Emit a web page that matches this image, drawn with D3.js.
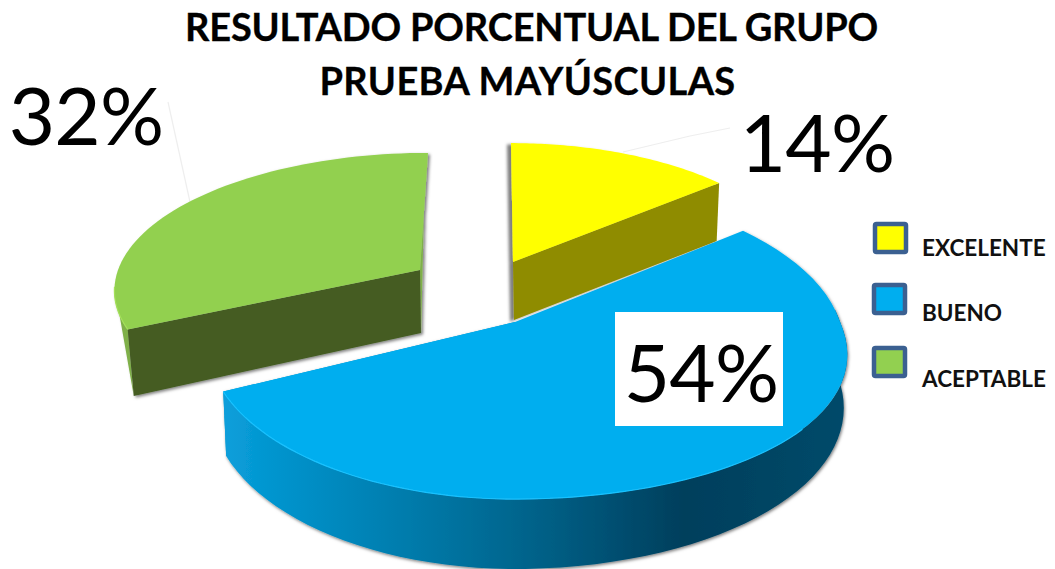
<!DOCTYPE html>
<html><head><meta charset="utf-8">
<script src="https://cdn.jsdelivr.net/npm/d3@7"></script>
<style>html,body{margin:0;padding:0;background:#fff;overflow:hidden}svg{display:block}text{font-family:Lato,Carlito,"Open Sans",sans-serif}</style>
</head><body><div id="c"></div>
<script>
const categories = ["EXCELENTE", "BUENO", "ACEPTABLE"];
const values = [14, 54, 32];
const titleLines = ["RESULTADO PORCENTUAL DEL GRUPO", "PRUEBA MAYÚSCULAS"];
const topColors = ["#ffff00", "#00aeef", "#92d050"];
const innerColors = ["#8f8c00", "#006f9e", "#445c24"];
const rimColors = ["#5f5c00", "#19c2ff", "#a4e05a"];
const sliverColors = ["#5f5c00", "#0090c8", "#7fb04a"];

const W = 1055, H = 569, k = 0.127;
const geom = [
  {cx:513, cy:262, a:134,   bR:291, bL:291, backFall:0, bump:0,  lean:-2, depth:58, dk:0, shrinkR:.985, slope:0,   shrinkL:.985, sh:-4},
  {cx:515, cy:322, a:154.6, bR:325, bL:305, backFall:8, bump:28, lean:0,  depth:61, dk:k, shrinkR:1,    slope:.06, shrinkL:.99,  sh:1},
  {cx:420, cy:270, a:132,   bR:305, bL:302, backFall:0, bump:0,  lean:8,  depth:63, dk:k, shrinkR:.985, slope:0,   shrinkL:.985, sh:2}
];
const labelPos = [{x:817,y:172},{x:701,y:402},{x:86,y:145}];
const swatchPos = [{x:875,y:224},{x:874,y:285},{x:874,y:348}];
const legendBase = [256,321,387];
const leaders = [[[623,152],[690,136],[730,128]],[[168,102],[190,202]]];
const titleStyle = [{x:531.5,y:41,ls:-0.2},{x:527.5,y:95,ls:0.35}];

const svg = d3.select("#c").append("svg").attr("width",W).attr("height",H);
const defs = svg.append("defs");
const grad = defs.append("linearGradient").attr("id","blueSide").attr("gradientUnits","userSpaceOnUse")
  .attr("x1",223).attr("x2",846).attr("y1",0).attr("y2",0);
[[0,"#0a9fdb"],[.12,"#0090c8"],[.3,"#007bab"],[.5,"#006289"],[.66,"#004a6b"],[.74,"#003f5c"],[1,"#004a6a"]]
  .forEach(s=>grad.append("stop").attr("offset",s[0]).attr("stop-color",s[1]));
geom.forEach((g,i)=>{
  defs.append("filter").attr("id","sh"+i).attr("x","-10%").attr("y","-10%").attr("width","120%").attr("height","120%")
    .append("feDropShadow").attr("dx",g.sh).attr("dy",1.5).attr("stdDeviation",1.8)
    .attr("flood-color","#000").attr("flood-opacity",.5);
});

const pie = d3.pie().sort(null).value(d=>d);
const arcs = pie(values);

function proj(g, t, lower){
  const X = Math.sin(t), Y = Math.cos(t), p = 1 + k*Y;
  const b = X >= 0 ? g.bR + (Y < 0 ? g.bump*(-Y) : -g.backFall*Y) : g.bL;
  let x = b*X/p, y = -g.a*Y/p;
  if (lower){
    x *= X >= 0 ? g.shrinkR - g.slope*Math.abs(Y) : g.shrinkL;
    y += g.depth/(1 + g.dk*Y);
    return [g.cx + x + g.lean*Y*0.5, g.cy + y];
  }
  return [g.cx + x + g.lean*Y, g.cy + y];
}
function apex(g, lower){ return [g.cx + (lower?1:0), g.cy + (lower? g.depth : 0)]; }
const line = d3.line();
const steps = (a,b)=>d3.range(0,61).map(i=>a+(b-a)*i/60);

leaders.forEach(l=>svg.append("path").attr("d",line(l)).attr("fill","none").attr("stroke","#eeeeee").attr("stroke-width",1.2));

[0,2,1].forEach(i=>{
  const g = geom[i], A = arcs[i], a0 = A.startAngle, a1 = A.endAngle;
  const grp = svg.append("g").attr("filter","url(#sh"+i+")");
  const backAngle = i===0 ? a0 : a1;
  grp.append("path").attr("fill",sliverColors[i]).attr("d",line([
    proj(g,backAngle,false), proj(g,backAngle,true), apex(g,true), apex(g,false)])+"Z");
  if (i===1){
    const ts = steps(Math.PI/2 - 0.08, a1);
    grp.append("path").attr("fill","url(#blueSide)")
      .attr("d", line(ts.map(t=>proj(g,t,false)).concat(ts.slice().reverse().map(t=>proj(g,t,true))))+"Z");
  }
  if (i===2){
    const ts = steps(a0, Math.PI*1.46);
    grp.append("path").attr("fill",sliverColors[i])
      .attr("d", line([proj(g,a0,true)].concat(ts.map(t=>proj(g,t,false))))+"Z");
  }
  if (i!==1){
    const faceAngle = i===0 ? a1 : a0;
    grp.append("path").attr("fill",innerColors[i]).attr("d",line([
      apex(g,false), proj(g,faceAngle,false), proj(g,faceAngle,true), apex(g,true)])+"Z");
  }
  const ts = steps(a0,a1);
  grp.append("path").attr("fill",topColors[i])
    .attr("d",line([apex(g,false)].concat(ts.map(t=>proj(g,t,false))))+"Z");
  if (i!==0){
    const r0 = i===1 ? Math.PI*0.72 : a0, r1 = i===1 ? a1 : Math.PI*1.46;
    grp.append("path").attr("fill","none").attr("stroke",rimColors[i]).attr("stroke-width",1.2)
      .attr("d",line(steps(r0,r1).map(t=>proj(g,t,false))));
  }
});

svg.selectAll("text.title").data(titleLines).join("text").attr("class","title")
  .attr("x",(d,i)=>titleStyle[i].x).attr("y",(d,i)=>titleStyle[i].y).attr("text-anchor","middle")
  .attr("font-size",38).attr("font-weight",700).attr("letter-spacing",(d,i)=>titleStyle[i].ls)
  .attr("fill","#000").attr("stroke","#000").attr("stroke-width",.3).text(d=>d);

svg.append("rect").attr("x",615).attr("y",312).attr("width",168).attr("height",114).attr("fill","#fff");

svg.selectAll("text.val").data(values).join("text").attr("class","val")
  .attr("x",(d,i)=>labelPos[i].x).attr("y",(d,i)=>labelPos[i].y).attr("text-anchor","middle")
  .attr("font-size",80).attr("letter-spacing",-0.8).attr("fill","#000").text(d=>d+"%");

categories.forEach((c,i)=>{
  svg.append("rect").attr("x",swatchPos[i].x).attr("y",swatchPos[i].y).attr("width",31).attr("height",28)
    .attr("rx",1.5).attr("fill",topColors[i]).attr("stroke","#3b6091").attr("stroke-width",4.5);
  svg.append("text").attr("x",922).attr("y",legendBase[i]).attr("font-size",22.5).attr("font-weight",700)
    .attr("fill","#111").text(c);
});
</script></body></html>
